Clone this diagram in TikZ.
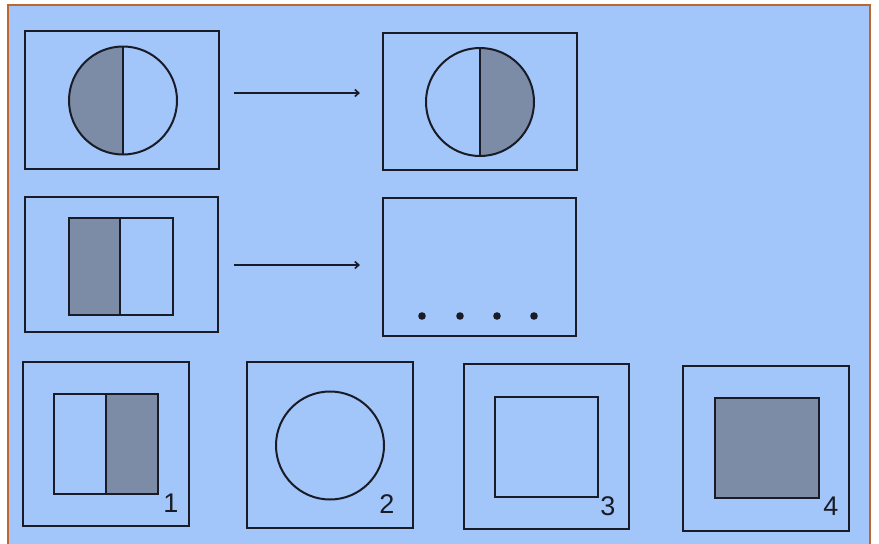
\documentclass[tikz,border=0pt]{standalone}
\usepackage{fontspec}
\setmainfont{Liberation Sans}
\usetikzlibrary{arrows.meta}
\definecolor{panel}{RGB}{162,197,250}
\definecolor{greyfill}{RGB}{124,139,166}
\definecolor{frame}{RGB}{186,104,48}
\definecolor{ink}{RGB}{25,28,38}
\begin{document}
\begin{tikzpicture}[x=1pt,y=-1pt,
  box/.style={draw=ink,line width=2.2pt},
  figline/.style={draw=ink,line width=2pt},
  num/.style={font=\fontsize{27}{27}\selectfont,text=ink,inner sep=0pt},
  arr/.style={draw=ink,line width=1.6pt,-{Straight Barb[length=4pt,width=7pt]}},
  dot/.style={fill=ink}]
\useasboundingbox (0,0) rectangle (879,544);
\fill[white] (0,0) rectangle (879,544);
\fill[panel] (8,5) rectangle (870,544);
\draw[frame,line width=1.5pt] (8,544) -- (8,5) -- (870,5) -- (870,544);

% Row 1
\draw[box] (25,31) rectangle (219,169);
\fill[greyfill] (123,46.5) arc[start angle=270,end angle=90,radius=54] -- cycle;
\draw[figline] (123,100.5) circle[radius=54];
\draw[figline] (123,46.5) -- (123,154.5);
\coordinate (a1s) at (234,93);
\coordinate (a1e) at (360,93);
\draw[arr] (a1s) -- (a1e);
\draw[box] (383,33) rectangle (577,170);
\fill[greyfill] (480,48) arc[start angle=-90,end angle=90,radius=54] -- cycle;
\draw[figline] (480,102) circle[radius=54];
\draw[figline] (480,48) -- (480,156);

% Row 2
\draw[box] (25,197) rectangle (218,332);
\fill[greyfill] (69,218) rectangle (120,315);
\draw[figline] (69,218) rectangle (173,315);
\draw[figline] (120,218) -- (120,315);
\coordinate (a2s) at (234,265);
\coordinate (a2e) at (360,265);
\draw[arr] (a2s) -- (a2e);
\draw[box] (383,198) rectangle (576,336);
\foreach \x in {422,460,497,534} \fill[dot] (\x,316) circle[radius=3.8];

% Row 3
\draw[box] (23,362) rectangle (189,526);
\fill[greyfill] (106,394) rectangle (158,494);
\draw[figline] (54,394) rectangle (158,494);
\draw[figline] (106,394) -- (106,494);
\node[num] (n1) at (171,503) {1};

\draw[box] (247,362) rectangle (413,528);
\draw[figline] (330,445.5) circle[radius=54];
\node[num] (n2) at (387,504) {2};

\draw[box] (464,364) rectangle (629,529);
\draw[figline] (495,397) rectangle (598,497);
\node[num] (n3) at (608,506) {3};

\draw[box] (683,366) rectangle (849,531);
\draw[figline,fill=greyfill] (715,398) rectangle (819,498);
\node[num] (n4) at (831,506) {4};
\end{tikzpicture}
\end{document}
